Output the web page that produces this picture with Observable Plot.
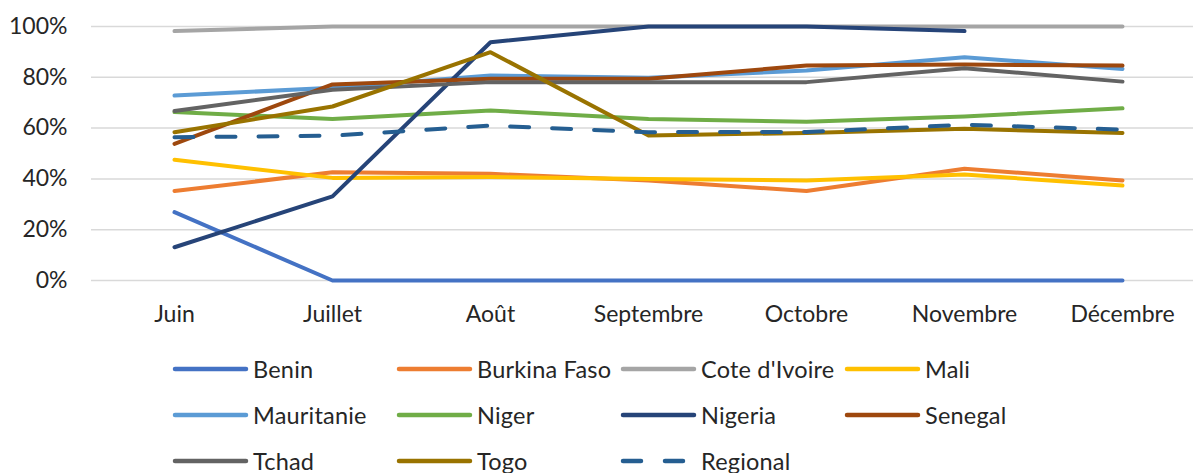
<!DOCTYPE html>
<html>
<head>
<meta charset="utf-8">
<script src="https://cdn.jsdelivr.net/npm/d3@7"></script>
<script src="https://cdn.jsdelivr.net/npm/@observablehq/plot@0.6"></script>
<style>
  html, body { margin: 0; padding: 0; background: #fff; overflow: hidden; }
  body { width: 1193px; height: 473px; font-family: Lato, "Open Sans", sans-serif; color: #262626; }
  #legend { position: absolute; left: 170px; top: 346px; display: grid; grid-template-columns: repeat(4, 224px); grid-auto-rows: 46px; }
  .item { display: flex; align-items: center; font-size: 23.5px; white-space: nowrap; letter-spacing: 0.2px; }
  .item svg { margin-right: 3px; flex: none; }
</style>
</head>
<body>
<div id="chart"></div>
<div id="legend"></div>
<script>
const months = ["Juin", "Juillet", "Août", "Septembre", "Octobre", "Novembre", "Décembre"];
const seriesNames = ["Benin", "Burkina Faso", "Cote d'Ivoire", "Mali", "Mauritanie", "Niger", "Nigeria", "Senegal", "Tchad", "Togo", "Regional"];
const seriesColors = ["#4472C4", "#ED7D31", "#A5A5A5", "#FFC000", "#5B9BD5", "#70AD47", "#264478", "#9E480E", "#636363", "#997300", "#255E91"];

const benin       = [0.269, 0, 0, 0, 0, 0, 0];
const burkinaFaso = [0.352, 0.426, 0.420, 0.394, 0.352, 0.440, 0.394];
const coteIvoire  = [0.982, 1.0, 1.0, 1.0, 1.0, 1.0, 1.0];
const mali        = [0.475, 0.404, 0.407, 0.400, 0.394, 0.417, 0.374];
const mauritanie  = [0.728, 0.759, 0.807, 0.798, 0.827, 0.879, 0.833];
const niger       = [0.663, 0.636, 0.669, 0.636, 0.625, 0.646, 0.678];
const nigeria     = [0.131, 0.331, 0.938, 1.0, 1.0, 0.982, null];
const senegal     = [0.538, 0.772, 0.794, 0.794, 0.846, 0.850, 0.846];
const tchad       = [0.667, 0.751, 0.781, 0.781, 0.781, 0.836, 0.783];
const togo        = [0.584, 0.685, 0.899, 0.571, 0.581, 0.597, 0.581];
const regional    = [0.564, 0.570, 0.610, 0.584, 0.585, 0.613, 0.594];

const yTicks = [0, 0.2, 0.4, 0.6, 0.8, 1.0];

const seriesValues = [benin, burkinaFaso, coteIvoire, mali, mauritanie, niger, nigeria, senegal, tchad, togo, regional];
const data = [];
seriesNames.forEach((name, si) => {
  months.forEach((m, mi) => data.push({series: name, month: m, value: seriesValues[si][mi]}));
});

const lineMarks = seriesNames.map((name, si) =>
  Plot.line(data.filter(d => d.series === name), {
    x: "month", y: "value",
    stroke: seriesColors[si],
    strokeWidth: 4,
    strokeLinecap: "round",
    strokeLinejoin: "round",
    strokeDasharray: name === "Regional" ? "19,23" : null
  })
);

const chart = Plot.plot({
  width: 1193,
  height: 340,
  marginLeft: 91,
  marginRight: 0,
  marginTop: 26,
  marginBottom: 60,
  style: {fontFamily: "Lato, 'Open Sans', sans-serif", fontSize: "23px", color: "#262626", background: "#fff"},
  x: {type: "point", domain: months, range: [172, 1124], padding: 0, label: null},
  y: {domain: [0, 1], label: null},
  marks: [
    Plot.gridY(yTicks, {stroke: "#d9d9d9", strokeOpacity: 1, strokeWidth: 1.5}),
    Plot.axisX({tickSize: 0, tickPadding: 25, fontSize: 23, label: null}),
    Plot.axisY({ticks: yTicks, tickFormat: d3.format(".0%"), tickSize: 0, tickPadding: 24, fontSize: 23, label: null}),
    ...lineMarks
  ]
});
document.getElementById("chart").appendChild(chart);

const legend = document.getElementById("legend");
seriesNames.forEach((name, si) => {
  const item = document.createElement("div");
  item.className = "item";
  const dash = name === "Regional" ? 'stroke-dasharray="18,24"' : "";
  item.innerHTML = `<svg width="80" height="10"><line x1="5" y1="5" x2="76" y2="5" stroke="${seriesColors[si]}" stroke-width="4.5" stroke-linecap="round" ${dash}/></svg><span>${name}</span>`;
  legend.appendChild(item);
});
</script>
</body>
</html>
